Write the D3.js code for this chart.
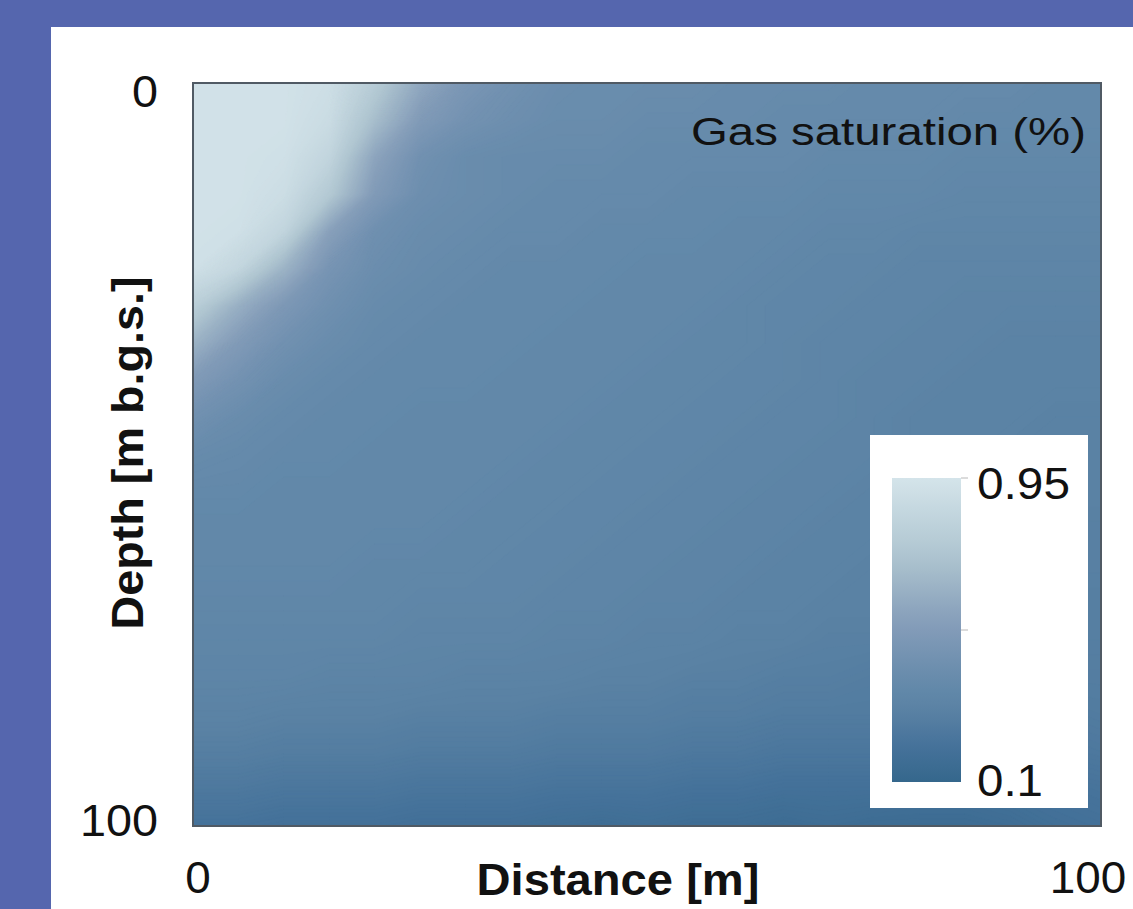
<!DOCTYPE html>
<html><head><meta charset="utf-8">
<script src="https://cdn.jsdelivr.net/npm/d3@7"></script>
<style>html,body{margin:0;padding:0;background:#5566ae;overflow:hidden}</style>
</head><body>
<svg id="chart" width="1133" height="909"></svg>
<script>
// ---- data ----
const distances = [0,5,10,15,20,25,30,35,40,45,50,55,60,65,70,75,80,85,90,95,100];
const depths    = [0,5,10,15,20,25,30,35,40,45,50,55,60,65,70,75,80,85,90,95,100];
// gas saturation, rows = depth, columns = distance
const sat_d0   = [0.93,0.93,0.93,0.91,0.78,0.60,0.49,0.44,0.41,0.40,0.40,0.40,0.39,0.39,0.39,0.38,0.38,0.38,0.38,0.37,0.37];
const sat_d5   = [0.93,0.93,0.93,0.89,0.70,0.52,0.45,0.42,0.40,0.40,0.39,0.39,0.39,0.38,0.38,0.38,0.38,0.37,0.37,0.37,0.37];
const sat_d10  = [0.93,0.93,0.92,0.84,0.58,0.44,0.40,0.39,0.39,0.39,0.38,0.38,0.38,0.38,0.37,0.37,0.37,0.36,0.36,0.36,0.36];
const sat_d15  = [0.93,0.93,0.90,0.76,0.52,0.42,0.40,0.39,0.38,0.38,0.38,0.37,0.37,0.37,0.36,0.36,0.36,0.35,0.35,0.35,0.35];
const sat_d20  = [0.93,0.92,0.84,0.56,0.43,0.40,0.39,0.38,0.38,0.37,0.37,0.37,0.36,0.36,0.35,0.35,0.34,0.34,0.34,0.34,0.34];
const sat_d25  = [0.92,0.85,0.65,0.47,0.41,0.39,0.38,0.37,0.37,0.37,0.36,0.36,0.36,0.35,0.34,0.34,0.33,0.33,0.33,0.33,0.33];
const sat_d30  = [0.80,0.63,0.50,0.43,0.39,0.38,0.37,0.37,0.37,0.36,0.36,0.36,0.35,0.34,0.34,0.33,0.33,0.32,0.32,0.32,0.32];
const sat_d35  = [0.65,0.52,0.44,0.40,0.38,0.37,0.37,0.37,0.36,0.36,0.36,0.35,0.35,0.34,0.33,0.33,0.32,0.32,0.31,0.31,0.31];
const sat_d40  = [0.52,0.45,0.40,0.38,0.37,0.37,0.37,0.36,0.36,0.36,0.35,0.35,0.34,0.34,0.33,0.32,0.32,0.31,0.31,0.31,0.31];
const sat_d45  = [0.44,0.40,0.38,0.37,0.37,0.36,0.36,0.36,0.36,0.35,0.35,0.34,0.34,0.33,0.33,0.32,0.31,0.31,0.31,0.30,0.30];
const sat_d50  = [0.39,0.38,0.37,0.37,0.36,0.36,0.36,0.36,0.35,0.35,0.34,0.34,0.33,0.33,0.32,0.32,0.31,0.31,0.30,0.30,0.30];
const sat_d55  = [0.37,0.37,0.36,0.36,0.36,0.36,0.36,0.35,0.35,0.34,0.34,0.33,0.33,0.32,0.32,0.31,0.31,0.30,0.30,0.30,0.30];
const sat_d60  = [0.36,0.36,0.36,0.36,0.36,0.36,0.35,0.35,0.34,0.34,0.33,0.33,0.32,0.32,0.31,0.31,0.30,0.30,0.30,0.29,0.29];
const sat_d65  = [0.36,0.36,0.36,0.36,0.35,0.35,0.35,0.34,0.34,0.33,0.33,0.32,0.32,0.31,0.31,0.30,0.30,0.29,0.29,0.29,0.29];
const sat_d70  = [0.35,0.35,0.35,0.35,0.35,0.34,0.34,0.34,0.33,0.33,0.32,0.32,0.31,0.31,0.30,0.30,0.29,0.29,0.28,0.28,0.28];
const sat_d75  = [0.34,0.34,0.34,0.34,0.34,0.33,0.33,0.33,0.32,0.32,0.31,0.31,0.30,0.30,0.29,0.29,0.28,0.28,0.28,0.28,0.28];
const sat_d80  = [0.33,0.33,0.33,0.32,0.32,0.32,0.31,0.31,0.31,0.30,0.30,0.29,0.29,0.28,0.28,0.27,0.27,0.27,0.27,0.27,0.27];
const sat_d85  = [0.31,0.31,0.30,0.30,0.30,0.29,0.29,0.29,0.28,0.28,0.28,0.27,0.27,0.26,0.26,0.26,0.25,0.25,0.25,0.25,0.26];
const sat_d90  = [0.28,0.28,0.27,0.27,0.27,0.26,0.26,0.26,0.25,0.25,0.25,0.24,0.24,0.23,0.23,0.23,0.22,0.22,0.22,0.23,0.24];
const sat_d95  = [0.24,0.24,0.23,0.23,0.23,0.22,0.22,0.22,0.21,0.21,0.21,0.20,0.20,0.19,0.19,0.19,0.18,0.18,0.19,0.20,0.21];
const sat_d100 = [0.20,0.20,0.19,0.19,0.19,0.18,0.18,0.18,0.17,0.16,0.17,0.16,0.16,0.15,0.16,0.15,0.15,0.15,0.16,0.18,0.19];
const saturationRows = [sat_d0,sat_d5,sat_d10,sat_d15,sat_d20,sat_d25,sat_d30,sat_d35,sat_d40,sat_d45,sat_d50,
  sat_d55,sat_d60,sat_d65,sat_d70,sat_d75,sat_d80,sat_d85,sat_d90,sat_d95,sat_d100];

const xTickValues = [0, 100];
const yTickValues = [0, 100];
const legendLabelValues = [0.95, 0.1];
const legendTickValues = [0.95, 0.525];
const colorDomain = [0.1, 0.2, 0.3, 0.37, 0.46, 0.553, 0.74, 0.95];
const colorRange  = ["#35678c","#45729a","#5a82a4","#6389aa","#7593b2","#879fba","#b0c6d1","#d4e4ea"];

// ---- layout ----
const svg = d3.select("#chart");
const font = "'Liberation Sans', Arial, sans-serif";
const plot = {x0:193, x1:1101, y0:83, y1:826};

svg.append("rect").attr("x",0).attr("y",0).attr("width",1133).attr("height",909).attr("fill","#5566ae");
svg.append("rect").attr("x",51).attr("y",27).attr("width",1082).attr("height",882).attr("fill","#ffffff");

const xScale = d3.scaleLinear().domain([0,100]).range([plot.x0, plot.x1]);
const yScale = d3.scaleLinear().domain([0,100]).range([plot.y0, plot.y1]);
const color = d3.scaleLinear().domain(colorDomain).range(colorRange).interpolate(d3.interpolateRgb).clamp(true);

const defs = svg.append("defs");
defs.append("clipPath").attr("id","plotClip").append("rect")
  .attr("x",plot.x0).attr("y",plot.y0).attr("width",plot.x1-plot.x0).attr("height",plot.y1-plot.y0);

// heatmap via contour bands
const nx = distances.length, ny = depths.length;
const flat = saturationRows.flat();
const dxStep = distances[1]-distances[0], dyStep = depths[1]-depths[0];
const step = 0.004;
const thresholds = d3.range(0.1, 0.96, step);
const contours = d3.contours().size([nx, ny]).thresholds(thresholds)(flat);
const proj = d3.geoTransform({
  point(x, y) {
    this.stream.point(xScale(distances[0] + (x-0.5)*dxStep), yScale(depths[0] + (y-0.5)*dyStep));
  }
});
const path = d3.geoPath(proj);
const heat = svg.append("g").attr("clip-path","url(#plotClip)");
heat.append("rect").attr("x",plot.x0).attr("y",plot.y0).attr("width",plot.x1-plot.x0).attr("height",plot.y1-plot.y0)
  .attr("fill", color(d3.min(flat)));
heat.selectAll("path").data(contours).join("path")
  .attr("d", path)
  .attr("fill", d => color(d.value + step/2))
  .attr("stroke", d => color(d.value + step/2))
  .attr("stroke-width", 0.6);

// frame
svg.append("rect").attr("x",plot.x0).attr("y",plot.y0).attr("width",plot.x1-plot.x0).attr("height",plot.y1-plot.y0)
  .attr("fill","none").attr("stroke","#505a64").attr("stroke-width",2);

// title inside
svg.append("text").attr("x",1086).attr("y",145).attr("text-anchor","end")
  .attr("font-family",font).attr("font-size",38).attr("fill","#111")
  .attr("textLength",395).attr("lengthAdjust","spacingAndGlyphs")
  .text("Gas saturation (%)");

// y tick labels
svg.selectAll("text.ytick").data(yTickValues).join("text").attr("class","ytick")
  .attr("x",158).attr("y", d => yScale(d) + (d === 0 ? 24 : 10))
  .attr("text-anchor","end").attr("font-family",font).attr("font-size",45).attr("fill","#111")
  .attr("textLength", d => String(d).length*26).attr("lengthAdjust","spacingAndGlyphs")
  .text(d => d);

// x tick labels
svg.selectAll("text.xtick").data(xTickValues).join("text").attr("class","xtick")
  .attr("x", d => xScale(d) + (d === 0 ? 5 : -13)).attr("y", 893)
  .attr("text-anchor","middle").attr("font-family",font).attr("font-size",45).attr("fill","#111")
  .attr("textLength", d => String(d).length*25.5).attr("lengthAdjust","spacingAndGlyphs")
  .text(d => d);

// axis titles
svg.append("text").attr("x",618).attr("y",895).attr("text-anchor","middle")
  .attr("font-family",font).attr("font-size",44).attr("font-weight","bold").attr("fill","#111")
  .attr("textLength",283).attr("lengthAdjust","spacingAndGlyphs")
  .text("Distance [m]");
svg.append("text").attr("transform","translate(143,453) rotate(-90)").attr("text-anchor","middle")
  .attr("font-family",font).attr("font-size",44).attr("font-weight","bold").attr("fill","#111")
  .attr("textLength",353).attr("lengthAdjust","spacingAndGlyphs")
  .text("Depth [m b.g.s.]");

// legend
const lg = svg.append("g");
lg.append("rect").attr("x",870).attr("y",435).attr("width",218).attr("height",373).attr("fill","#ffffff");
const barScale = d3.scaleLinear().domain([0.95, 0.1]).range([478, 782]);
const grad = defs.append("linearGradient").attr("id","cbar").attr("x1",0).attr("y1",0).attr("x2",0).attr("y2",1);
const gradVals = d3.range(0, 1.0001, 0.05);
grad.selectAll("stop").data(gradVals).join("stop")
  .attr("offset", d => d)
  .attr("stop-color", d => color(0.95 - d*(0.95-0.1)));
lg.append("rect").attr("x",892).attr("y",barScale(0.95)).attr("width",69)
  .attr("height",barScale(0.1)-barScale(0.95)).attr("fill","url(#cbar)");
lg.selectAll("line.lt").data(legendTickValues).join("line").attr("class","lt")
  .attr("x1",961).attr("x2",968).attr("y1",d=>barScale(d)).attr("y2",d=>barScale(d))
  .attr("stroke","#b8b8b8").attr("stroke-width",1);
lg.selectAll("text.lab").data(legendLabelValues).join("text").attr("class","lab")
  .attr("x",977).attr("y", d => barScale(d) + (d === 0.95 ? 21 : 14))
  .attr("font-family",font).attr("font-size",45).attr("fill","#111")
  .attr("textLength", d => d === 0.95 ? 93 : 66).attr("lengthAdjust","spacingAndGlyphs")
  .text(d => d);
</script>
</body></html>
